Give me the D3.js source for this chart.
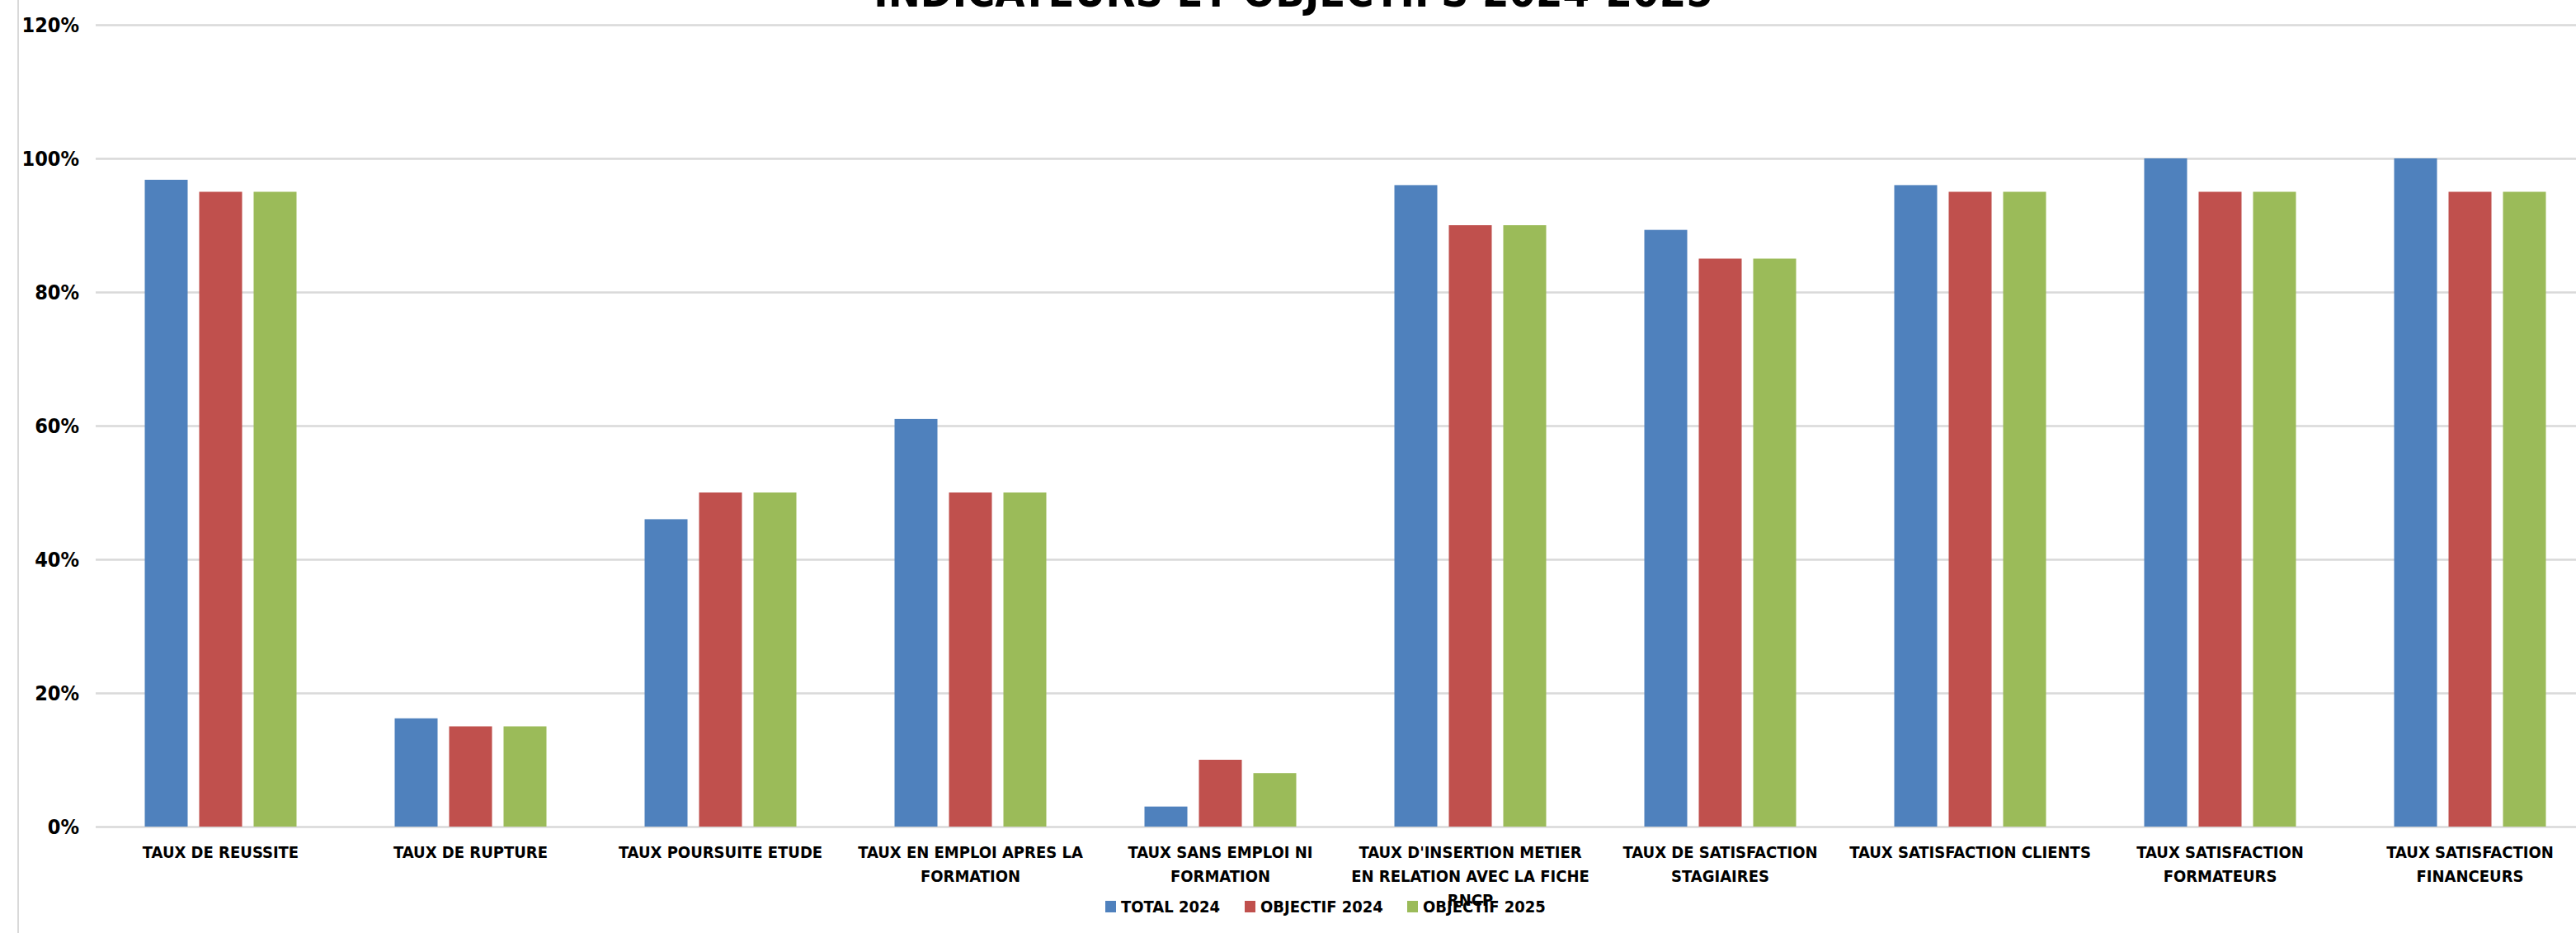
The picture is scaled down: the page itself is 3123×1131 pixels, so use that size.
<!DOCTYPE html>
<html>
<head>
<meta charset="utf-8">
<script src="https://cdn.jsdelivr.net/npm/d3@7"></script>
<style>
  html, body { margin: 0; padding: 0; background: #fff; overflow: hidden; }
  svg text { font-family: "Liberation Sans Narrow", "DejaVu Sans Condensed", "Liberation Sans", sans-serif; font-weight: bold; fill: #000; }
</style>
</head>
<body>
<svg id="chart"></svg>
<script>
// Data
const categories = [
    "TAUX DE REUSSITE", "TAUX DE RUPTURE", "TAUX POURSUITE ETUDE",
    "TAUX EN EMPLOI APRES LA FORMATION", "TAUX SANS EMPLOI NI FORMATION",
    "TAUX D'INSERTION METIER EN RELATION AVEC LA FICHE RNCP",
    "TAUX DE SATISFACTION STAGIAIRES", "TAUX SATISFACTION CLIENTS",
    "TAUX SATISFACTION FORMATEURS", "TAUX SATISFACTION FINANCEURS"
];
// wrapped tick labels, as Excel shows them
const tickLines = [
    ["TAUX DE REUSSITE"],
    ["TAUX DE RUPTURE"],
    ["TAUX POURSUITE ETUDE"],
    ["TAUX EN EMPLOI APRES LA", "FORMATION"],
    ["TAUX SANS EMPLOI NI", "FORMATION"],
    ["TAUX D'INSERTION METIER", "EN RELATION AVEC LA FICHE", "RNCP"],
    ["TAUX DE SATISFACTION", "STAGIAIRES"],
    ["TAUX SATISFACTION CLIENTS"],
    ["TAUX SATISFACTION", "FORMATEURS"],
    ["TAUX SATISFACTION", "FINANCEURS"]
];
const seriesNames = ["TOTAL 2024", "OBJECTIF 2024", "OBJECTIF 2025"];
const total2024 = [0.968, 0.162, 0.46, 0.61, 0.03, 0.96, 0.893, 0.96, 1.0, 1.0];
const objectif2024 = [0.95, 0.15, 0.50, 0.50, 0.10, 0.90, 0.85, 0.95, 0.95, 0.95];
const objectif2025 = [0.95, 0.15, 0.50, 0.50, 0.08, 0.90, 0.85, 0.95, 0.95, 0.95];
const yTicks = [0, 0.2, 0.4, 0.6, 0.8, 1.0, 1.2];
const colors = ["#4f81bd", "#c0504d", "#9bbb59"];

const title = "INDICATEURS ET OBJECTIFS 2024-2025";

// Layout
const width = 3123;
const height = 1131;
const plotLeft = 116, plotRight = 3146;
const plotTop = 30, plotBottom = 1002;

const svg = d3.select("#chart")
    .attr("width", width)
    .attr("height", height);

// left border of the chart area
svg.append("line")
    .attr("x1", 22).attr("x2", 22)
    .attr("y1", 0).attr("y2", height)
    .attr("stroke", "#d9d9d9").attr("stroke-width", 2);

const x0 = d3.scaleBand()
    .domain(categories)
    .range([plotLeft, plotRight])
    .padding(0);

const groupW = 184;
const x1 = d3.scaleBand()
    .domain(seriesNames)
    .range([(x0.bandwidth() - groupW) / 2, (x0.bandwidth() + groupW) / 2])
    .paddingInner(0.212);

const y = d3.scaleLinear()
    .domain([0, 1.2])
    .range([plotBottom, plotTop]);

// gridlines + y labels
const yAxis = svg.append("g")
    .attr("transform", `translate(${plotLeft},0)`)
    .call(d3.axisLeft(y).tickValues(yTicks).tickFormat(d3.format(".0%"))
        .tickSize(-(width - plotLeft)).tickPadding(20));
yAxis.select(".domain").remove();
yAxis.selectAll(".tick line")
    .attr("stroke", "#d9d9d9").attr("stroke-width", 2.5);
yAxis.selectAll(".tick text")
    .attr("font-size", 25);

// bars
const table = categories.map((c, i) => ({
    cat: c,
    vals: [total2024[i], objectif2024[i], objectif2025[i]]
}));

const groups = svg.append("g").selectAll("g")
    .data(table)
    .join("g")
    .attr("transform", d => `translate(${x0(d.cat)},0)`);

groups.selectAll("rect")
    .data(d => d.vals.map((v, k) => ({ name: seriesNames[k], v: v, k: k })))
    .join("rect")
    .attr("x", d => x1(d.name))
    .attr("width", x1.bandwidth())
    .attr("y", d => y(d.v))
    .attr("height", d => y(0) - y(d.v))
    .attr("fill", d => colors[d.k]);

// x labels
const xAxis = svg.append("g")
    .attr("transform", `translate(0,${plotBottom})`)
    .call(d3.axisBottom(x0).tickSize(0).tickFormat(""));
xAxis.select(".domain").remove();
xAxis.selectAll(".tick text").remove();
xAxis.selectAll(".tick").each(function(d, i) {
    const t = d3.select(this).append("text")
        .attr("text-anchor", "middle")
        .attr("font-size", 20)
        .attr("y", 38);
    tickLines[i].forEach((line, j) => {
        t.append("tspan").attr("x", 0).attr("dy", j === 0 ? 0 : 29).text(line);
    });
});

// legend
const legendX = [1340, 1509, 1706];
const legend = svg.append("g");
seriesNames.forEach((name, k) => {
    legend.append("rect")
        .attr("x", legendX[k]).attr("y", 1092)
        .attr("width", 13).attr("height", 14)
        .attr("fill", colors[k]);
    legend.append("text")
        .attr("x", legendX[k] + 19).attr("y", 1106)
        .attr("font-size", 20)
        .text(name);
});

// title (cut off at the top, as in the source)
svg.append("text")
    .attr("x", 1568).attr("y", 8)
    .attr("text-anchor", "middle")
    .attr("font-size", 52)
    .text(title);
</script>
</body>
</html>
